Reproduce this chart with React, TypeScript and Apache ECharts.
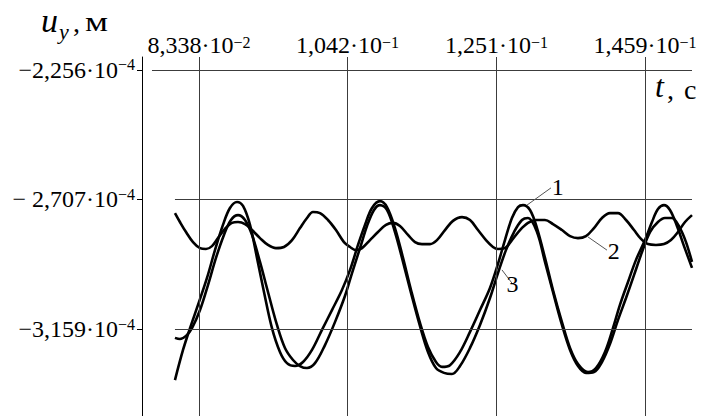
import React, { useEffect, useRef } from "react";
import * as echarts from "echarts";

const FONT = '"Liberation Serif", "Times New Roman", serif';

// time t, ms (converted to seconds for the axis)
const t1 = [80.01, 81.14, 82.12, 83.24, 84.5, 85.62, 86.74, 87.72, 88.71, 89.55, 90.53, 91.51, 92.49, 93.61, 94.73, 95.71, 96.84, 97.96, 99.22, 100.62, 102.02, 103.42, 104.55, 105.67, 106.65, 107.63, 108.75, 109.73, 110.85, 111.98, 113.1, 114.36, 115.48, 116.6, 117.44, 118.56, 119.97, 121.37, 122.77, 124.17, 125.29, 126.27, 127.25, 128.1, 128.8, 129.78, 130.76, 131.88, 133.0, 134.26, 135.39, 136.51, 137.91, 139.03, 140.29, 141.41, 142.39, 143.52, 144.64, 145.9, 146.88, 147.72, 148.56, 149.4, 150.38, 151.37, 152.49];
// displacement u_y, x10^-4 m
const u1 = [-3.337, -3.232, -3.156, -3.075, -2.981, -2.884, -2.796, -2.737, -2.716, -2.73, -2.796, -2.911, -3.03, -3.156, -3.239, -3.278, -3.288, -3.274, -3.232, -3.162, -3.093, -3.023, -2.953, -2.866, -2.796, -2.737, -2.713, -2.734, -2.807, -2.911, -3.023, -3.138, -3.222, -3.274, -3.291, -3.285, -3.239, -3.169, -3.093, -3.016, -2.932, -2.849, -2.772, -2.734, -2.727, -2.744, -2.807, -2.911, -3.023, -3.135, -3.225, -3.281, -3.309, -3.295, -3.239, -3.156, -3.075, -2.995, -2.918, -2.849, -2.786, -2.741, -2.727, -2.744, -2.8, -2.87, -2.946];

const t2 = [80.01, 80.71, 81.56, 82.54, 83.52, 84.36, 85.2, 86.04, 87.02, 88.0, 88.85, 89.83, 90.81, 91.93, 93.05, 94.17, 95.29, 96.42, 97.54, 98.52, 99.36, 100.34, 101.46, 102.58, 103.7, 104.55, 105.39, 106.23, 107.35, 108.47, 109.59, 110.57, 111.55, 112.68, 113.66, 114.64, 115.76, 116.74, 117.86, 118.98, 120.25, 121.37, 122.49, 123.61, 124.59, 125.29, 126.27, 127.25, 128.38, 129.5, 130.62, 131.88, 133.0, 134.26, 135.39, 136.51, 137.63, 138.75, 139.87, 140.99, 142.11, 143.24, 144.36, 145.34, 146.32, 147.44, 148.56, 149.54, 150.52, 151.51, 152.49];
const u2 = [-2.755, -2.786, -2.821, -2.856, -2.877, -2.88, -2.87, -2.842, -2.81, -2.789, -2.786, -2.793, -2.814, -2.842, -2.866, -2.877, -2.873, -2.849, -2.807, -2.772, -2.751, -2.755, -2.779, -2.814, -2.856, -2.873, -2.884, -2.877, -2.849, -2.821, -2.796, -2.789, -2.8, -2.831, -2.856, -2.863, -2.863, -2.849, -2.814, -2.782, -2.769, -2.779, -2.814, -2.849, -2.873, -2.88, -2.877, -2.849, -2.814, -2.789, -2.779, -2.779, -2.793, -2.814, -2.835, -2.842, -2.835, -2.807, -2.772, -2.755, -2.755, -2.779, -2.814, -2.845, -2.863, -2.866, -2.863, -2.849, -2.821, -2.786, -2.762];

const t3 = [80.01, 80.71, 81.56, 82.4, 83.52, 84.64, 85.76, 86.88, 87.86, 88.85, 89.83, 90.81, 91.93, 93.05, 94.31, 95.43, 96.56, 97.54, 98.52, 99.64, 101.04, 102.44, 103.84, 104.83, 105.95, 106.93, 107.91, 108.75, 109.73, 110.85, 111.98, 113.1, 114.36, 115.48, 116.6, 117.72, 118.84, 119.97, 121.37, 122.77, 124.17, 125.29, 126.41, 127.54, 128.66, 129.5, 130.76, 131.88, 133.0, 134.26, 135.39, 136.51, 137.63, 138.75, 139.87, 140.99, 142.11, 143.24, 144.36, 145.48, 146.6, 147.72, 148.7, 149.68, 150.8, 151.65, 152.49];
const u3 = [-3.19, -3.194, -3.183, -3.156, -3.093, -3.006, -2.911, -2.831, -2.779, -2.762, -2.779, -2.831, -2.925, -3.03, -3.145, -3.225, -3.267, -3.288, -3.295, -3.278, -3.215, -3.135, -3.044, -2.964, -2.877, -2.8, -2.744, -2.727, -2.744, -2.821, -2.925, -3.033, -3.149, -3.239, -3.295, -3.312, -3.316, -3.288, -3.225, -3.145, -3.051, -2.964, -2.884, -2.821, -2.779, -2.772, -2.821, -2.925, -3.03, -3.145, -3.232, -3.288, -3.312, -3.309, -3.274, -3.211, -3.128, -3.051, -2.971, -2.891, -2.821, -2.786, -2.772, -2.772, -2.807, -2.856, -2.925];

// tick values and labels
const xTicks = [0.08338, 0.1042, 0.1251, 0.1459];
const xTickMant = ["8,338", "1,042", "1,251", "1,459"];
const xTickExp = ["\u22122", "\u22121", "\u22121", "\u22121"];
const yTicks = [-2.256, -2.707, -3.159];
const yTickMant = ["\u22122,256", "\u2212 2,707", "\u22123,159"];
const yTickExp = ["\u22124", "\u22124", "\u22124"];

// horizontal reference lines: value and starting time (s)
const hLineU = [-2.256, -2.707, -3.159];
const hLineFrom = [0.07679, 0.08001, 0.08001];

// curve labels with leader lines [t (s), u]
const curveLabels = ["1", "2", "3"];
const leaderStart = [[0.12936, -2.727], [0.13791, -2.838], [0.12585, -2.953]];
const leaderEnd = [[0.13272, -2.667], [0.14057, -2.884], [0.12725, -2.999]];

const X_MIN = 0.07539;
const X_MAX = 0.15249;
const Y_MIN = -3.4623;
const Y_MAX = -2.2107;

const nearest = (arr: number[], v: number) => {
  let b = 0;
  for (let i = 1; i < arr.length; i++) if (Math.abs(arr[i] - v) < Math.abs(arr[b] - v)) b = i;
  return b;
};

export default function App() {
  const ref = useRef<HTMLDivElement>(null);
  useEffect(() => {
    document.body.style.margin = "0";
    const chart = echarts.init(ref.current!, undefined, { renderer: "svg" });
    const curves = [
      { t: t1, u: u1 },
      { t: t2, u: u2 },
      { t: t3, u: u3 },
    ];
    const series: any[] = [
      {
        type: "line",
        data: [],
        z: 1,
        silent: true,
        markLine: {
          silent: true,
          symbol: ["none", "none"],
          label: { show: false },
          lineStyle: { color: "#3c3c3c", width: 1, type: "solid" },
          emphasis: { disabled: true },
          data: [
            ...xTicks.map((v) => [{ coord: [v, Y_MIN] }, { coord: [v, Y_MAX] }]),
            ...hLineU.map((u, i) => [{ coord: [hLineFrom[i], u] }, { coord: [X_MAX, u] }]),
          ],
        },
      },
    ];
    curves.forEach((c, ci) => {
      series.push({
        type: "line",
        z: 2,
        showSymbol: false,
        smooth: 0.35,
        silent: true,
        lineStyle: { color: "#000", width: 2.6 },
        data: c.t.map((x, i) => [x / 1000, c.u[i]]),
        markLine: {
          silent: true,
          symbol: ["none", "none"],
          lineStyle: { color: "#555", width: 1, type: "solid" },
          label: {
            show: true,
            position: "end",
            formatter: curveLabels[ci],
            fontFamily: FONT,
            fontSize: 24,
            color: "#000",
            distance: 1,
          },
          data: [[{ coord: leaderStart[ci] }, { coord: leaderEnd[ci] }]],
        },
      });
    });

    chart.setOption({
      animation: false,
      grid: { left: 142, right: 9, top: 57, bottom: 0, containLabel: false },
      xAxis: {
        type: "value",
        position: "top",
        min: X_MIN,
        max: X_MAX,
        axisLine: { show: false },
        axisTick: { show: false },
        splitLine: { show: false },
        axisLabel: {
          customValues: xTicks,
          margin: 1,
          formatter: (v: number) => {
            const i = nearest(xTicks, v);
            return `{m|${xTickMant[i]}\u00b710}{e|${xTickExp[i]}}`;
          },
          rich: {
            m: { fontFamily: FONT, fontSize: 24, color: "#000", lineHeight: 22 },
            e: { fontFamily: FONT, fontSize: 16, color: "#000", lineHeight: 10, verticalAlign: "top" },
          },
        },
      },
      yAxis: {
        type: "value",
        min: Y_MIN,
        max: Y_MAX,
        axisLine: { show: true, lineStyle: { color: "#000", width: 1 } },
        axisTick: { show: true, customValues: yTicks, length: 5, lineStyle: { color: "#000" } },
        splitLine: { show: false },
        axisLabel: {
          customValues: yTicks,
          margin: 7,
          formatter: (v: number) => {
            const i = nearest(yTicks, v);
            return `{m|${yTickMant[i]}\u00b710}{e|${yTickExp[i]}}`;
          },
          rich: {
            m: { fontFamily: FONT, fontSize: 24, color: "#000", lineHeight: 26 },
            e: { fontFamily: FONT, fontSize: 16, color: "#000", lineHeight: 14, verticalAlign: "top" },
          },
        },
      },
      graphic: [
        { type: "text", left: 41, top: 3, style: { text: "u", font: `italic 34px ${FONT}`, fill: "#000" } },
        { type: "text", left: 59, top: 20, style: { text: "y", font: `italic 22px ${FONT}`, fill: "#000" } },
        { type: "text", left: 73, top: 8, style: { text: ",", font: `28px ${FONT}`, fill: "#000" } },
        { type: "text", left: 85, top: 8, scaleX: 1.3, style: { text: "\u043c", font: `28px ${FONT}`, fill: "#000" } },
        { type: "text", left: 655, top: 70, style: { text: "t", font: `italic 32px ${FONT}`, fill: "#000" } },
        { type: "text", left: 667, top: 75, style: { text: ",", font: `28px ${FONT}`, fill: "#000" } },
        { type: "text", left: 684, top: 75, style: { text: "\u0441", font: `28px ${FONT}`, fill: "#000" } },
      ],
      series,
    });
    return () => chart.dispose();
  }, []);
  return <div ref={ref} style={{ width: 701, height: 416 }} />;
}
